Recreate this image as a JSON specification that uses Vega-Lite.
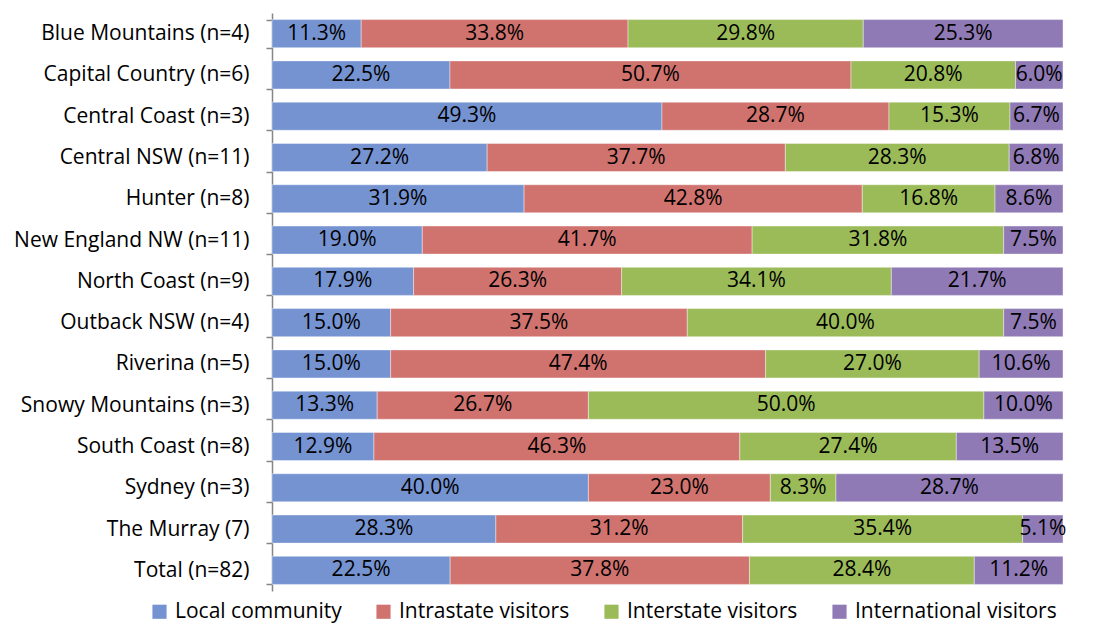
{
  "$schema": "https://vega.github.io/schema/vega-lite/v6.json",
  "width": 791,
  "height": 578,
  "autosize": {"type": "none"},
  "padding": {"left": 272, "top": 13, "right": 32, "bottom": 34},
  "background": "white",
  "config": {
    "font": "Open Sans",
    "view": {"stroke": null}
  },
  "data": {
    "values": [
      {"region": "Blue Mountains (n=4)", "Local community": 11.3, "Intrastate visitors": 33.8, "Interstate visitors": 29.8, "International visitors": 25.3},
      {"region": "Capital Country (n=6)", "Local community": 22.5, "Intrastate visitors": 50.7, "Interstate visitors": 20.8, "International visitors": 6.0},
      {"region": "Central Coast (n=3)", "Local community": 49.3, "Intrastate visitors": 28.7, "Interstate visitors": 15.3, "International visitors": 6.7},
      {"region": "Central NSW (n=11)", "Local community": 27.2, "Intrastate visitors": 37.7, "Interstate visitors": 28.3, "International visitors": 6.8},
      {"region": "Hunter (n=8)", "Local community": 31.9, "Intrastate visitors": 42.8, "Interstate visitors": 16.8, "International visitors": 8.6},
      {"region": "New England NW (n=11)", "Local community": 19.0, "Intrastate visitors": 41.7, "Interstate visitors": 31.8, "International visitors": 7.5},
      {"region": "North Coast (n=9)", "Local community": 17.9, "Intrastate visitors": 26.3, "Interstate visitors": 34.1, "International visitors": 21.7},
      {"region": "Outback NSW (n=4)", "Local community": 15.0, "Intrastate visitors": 37.5, "Interstate visitors": 40.0, "International visitors": 7.5},
      {"region": "Riverina (n=5)", "Local community": 15.0, "Intrastate visitors": 47.4, "Interstate visitors": 27.0, "International visitors": 10.6},
      {"region": "Snowy Mountains (n=3)", "Local community": 13.3, "Intrastate visitors": 26.7, "Interstate visitors": 50.0, "International visitors": 10.0},
      {"region": "South Coast (n=8)", "Local community": 12.9, "Intrastate visitors": 46.3, "Interstate visitors": 27.4, "International visitors": 13.5},
      {"region": "Sydney (n=3)", "Local community": 40.0, "Intrastate visitors": 23.0, "Interstate visitors": 8.3, "International visitors": 28.7},
      {"region": "The Murray (7)", "Local community": 28.3, "Intrastate visitors": 31.2, "Interstate visitors": 35.4, "International visitors": 5.1},
      {"region": "Total (n=82)", "Local community": 22.5, "Intrastate visitors": 37.8, "Interstate visitors": 28.4, "International visitors": 11.2}
    ]
  },
  "transform": [
    {"fold": ["Local community", "Intrastate visitors", "Interstate visitors", "International visitors"], "as": ["group", "pct"]},
    {"calculate": "indexof(['Local community', 'Intrastate visitors', 'Interstate visitors', 'International visitors'], datum.group)", "as": "groupOrder"},
    {"stack": "pct", "groupby": ["region"], "offset": "normalize", "sort": [{"field": "groupOrder", "order": "ascending"}], "as": ["s0", "s1"]},
    {"calculate": "(datum.s0 + datum.s1) / 2", "as": "mid"},
    {"calculate": "format(datum.pct, '.1f') + '%'", "as": "label"}
  ],
  "encoding": {
    "y": {
      "field": "region",
      "type": "nominal",
      "sort": null,
      "title": null,
      "scale": {"paddingInner": 0.32, "paddingOuter": 0.16},
      "axis": {
        "domainColor": "#868686",
        "domainWidth": 1.5,
        "tickColor": "#868686",
        "tickWidth": 1.5,
        "tickSize": 6,
        "tickBand": "extent",
        "labelFontSize": 21,
        "labelColor": "#000000",
        "labelPadding": 17,
        "labelLimit": 0,
        "labelFont": "Open Sans"
      }
    }
  },
  "layer": [
    {
      "mark": {"type": "bar", "stroke": "white", "strokeWidth": 0.4},
      "encoding": {
        "x": {"field": "s0", "type": "quantitative", "scale": {"domain": [0, 1], "nice": false}, "axis": null},
        "x2": {"field": "s1"},
        "color": {
          "field": "group",
          "type": "nominal",
          "scale": {
            "domain": ["Local community", "Intrastate visitors", "Interstate visitors", "International visitors"],
            "range": ["#7593D1", "#D0736F", "#9BBB59", "#8F7AB5"]
          },
          "legend": {
            "title": null,
            "orient": "none",
            "direction": "horizontal",
            "legendX": -123,
            "legendY": 588,
            "symbolType": "square",
            "symbolSize": 200,
            "symbolStrokeWidth": 0,
            "symbolOpacity": 1,
            "labelFontSize": 21,
            "labelColor": "#000000",
            "labelFont": "Open Sans",
            "labelLimit": 0,
            "columnPadding": 31,
            "labelOffset": 5
          }
        }
      }
    },
    {
      "mark": {"type": "text", "fontSize": 21, "color": "#000000", "align": "center", "baseline": "middle"},
      "encoding": {
        "x": {"field": "mid", "type": "quantitative", "scale": {"domain": [0, 1], "nice": false}},
        "text": {"field": "label", "type": "nominal"}
      }
    }
  ]
}
